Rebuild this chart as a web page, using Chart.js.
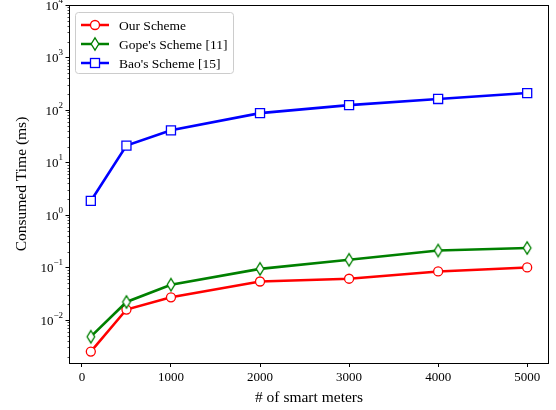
<!DOCTYPE html>
<html>
<head>
<meta charset="utf-8">
<script src="https://cdn.jsdelivr.net/npm/chart.js@4/dist/chart.umd.min.js"></script>
<style>
html, body { margin: 0; padding: 0; background: #fff; }
#wrap { width: 556px; height: 410px; }
</style>
</head>
<body>
<div id="wrap"><canvas id="c"></canvas></div>
<script>
// values (log scale, ms)
const meters = [100, 500, 1000, 2000, 3000, 4000, 5000];
const ourScheme = [0.0025, 0.0158, 0.027, 0.054, 0.061, 0.084, 0.1];
const gopeScheme = [0.0048, 0.022, 0.047, 0.094, 0.14, 0.21, 0.235];
const baoScheme = [1.85, 21, 41, 87, 124, 162, 210];
const seriesNames = ["Our Scheme", "Gope's Scheme [11]", "Bao's Scheme [15]"];
const xTicks = [0, 1000, 2000, 3000, 4000, 5000];
const yExponents = [-2, -1, 0, 1, 2, 3, 4];

const FONT = "'Liberation Serif', 'Times New Roman', serif";

// thin diamond marker like matplotlib 'd'
function thinDiamond(color) {
    const cv = document.createElement("canvas");
    cv.width = 12; cv.height = 16;
    const g = cv.getContext("2d");
    g.beginPath();
    g.moveTo(6, 1.8); g.lineTo(9.8, 8); g.lineTo(6, 14.2); g.lineTo(2.2, 8); g.closePath();
    g.fillStyle = "#fff"; g.fill();
    g.lineWidth = 1.3; g.strokeStyle = color; g.stroke();
    return cv;
}
const diamond = thinDiamond("#008000");

function toPoints(ys) {
    return meters.map((m, i) => ({ x: m, y: ys[i] }));
}

const frame = {
    id: "frame",
    afterDraw(chart) {
        const { ctx, chartArea: a, scales: { y } } = chart;
        ctx.save();
        ctx.strokeStyle = "#000";
        ctx.lineWidth = 1;
        ctx.strokeRect(Math.round(a.left) + 0.5, Math.round(a.top) + 0.5,
            Math.round(a.right - a.left) - 1, Math.round(a.bottom - a.top));

        // y ticks, major and minor
        const x0 = Math.round(a.left) + 0.5;
        for (let e = -3; e <= 4; e++) {
            for (let m = 1; m <= 9; m++) {
                const v = m * Math.pow(10, e);
                if (v < y.min || v > y.max) continue;
                const py = Math.round(y.getPixelForValue(v)) + 0.5;
                ctx.beginPath();
                ctx.moveTo(x0, py);
                ctx.lineTo(x0 - (m === 1 ? 4 : 2), py);
                ctx.lineWidth = m === 1 ? 1 : 0.7;
                ctx.stroke();
            }
        }

        // y tick labels 10^e
        ctx.fillStyle = "#000";
        ctx.textBaseline = "alphabetic";
        ctx.textAlign = "left";
        yExponents.forEach(e => {
            const py = y.getPixelForValue(Math.pow(10, e));
            const base = "10";
            const exp = e < 0 ? "\u2212" + Math.abs(e) : String(e);
            ctx.font = "13px " + FONT;
            const wb = ctx.measureText(base).width;
            ctx.font = "9px " + FONT;
            const we = ctx.measureText(exp).width;
            const right = a.left - 6;
            const left = right - wb - we;
            ctx.font = "13px " + FONT;
            ctx.fillText(base, left, py + 5);
            ctx.font = "9px " + FONT;
            ctx.fillText(exp, left + wb, py - 2);
        });

        // legend
        const bx = 75, by = 12, bw = 158, bh = 61;
        ctx.beginPath();
        ctx.roundRect(bx + 0.5, by + 0.5, bw, bh, 3);
        ctx.fillStyle = "rgba(255,255,255,0.8)";
        ctx.fill();
        ctx.strokeStyle = "#cccccc";
        ctx.lineWidth = 1;
        ctx.stroke();
        chart.data.datasets.forEach((ds, i) => {
            const ry = 25 + i * 19;
            ctx.strokeStyle = ds.borderColor;
            ctx.lineWidth = 2.5;
            ctx.beginPath();
            ctx.moveTo(81, ry); ctx.lineTo(109, ry);
            ctx.stroke();
            ctx.lineWidth = 1.3;
            if (ds.pointStyle === "circle") {
                ctx.beginPath();
                ctx.arc(95, ry, 4.5, 0, Math.PI * 2);
                ctx.fillStyle = "#fff"; ctx.fill(); ctx.stroke();
            } else if (ds.pointStyle === "rect") {
                ctx.fillStyle = "#fff";
                ctx.fillRect(90.5, ry - 4.5, 9, 9);
                ctx.strokeRect(90.5, ry - 4.5, 9, 9);
            } else {
                ctx.drawImage(ds.pointStyle, 95 - 6, ry - 8);
            }
            ctx.fillStyle = "#000";
            ctx.font = "13.5px " + FONT;
            ctx.textBaseline = "middle";
            ctx.fillText(ds.label, 119, ry + 1);
        });
        ctx.restore();
    }
};

new Chart(document.getElementById("c").getContext("2d"), {
    type: "line",
    data: {
        datasets: [
            {
                label: seriesNames[0],
                data: toPoints(ourScheme),
                borderColor: "#ff0000",
                backgroundColor: "#ffffff",
                borderWidth: 2.6,
                pointStyle: "circle",
                pointRadius: 4.5,
                pointBorderWidth: 1.3,
                order: 3
            },
            {
                label: seriesNames[1],
                data: toPoints(gopeScheme),
                borderColor: "#008000",
                backgroundColor: "#ffffff",
                borderWidth: 2.6,
                pointStyle: diamond,
                pointRadius: 5,
                pointBorderWidth: 1.3,
                order: 2
            },
            {
                label: seriesNames[2],
                data: toPoints(baoScheme),
                borderColor: "#0000ff",
                backgroundColor: "#ffffff",
                borderWidth: 2.6,
                pointStyle: "rect",
                pointRadius: 6.4,
                pointBorderWidth: 1.3,
                order: 1
            }
        ]
    },
    options: {
        responsive: true,
        maintainAspectRatio: false,
        animation: false,
        layout: { autoPadding: false, padding: { left: 0, top: 5, right: 7, bottom: 0 } },
        plugins: {
            legend: { display: false },
            tooltip: { enabled: false }
        },
        scales: {
            x: {
                type: "linear",
                min: -145,
                max: 5245,
                afterBuildTicks: scale => {
                    scale.ticks = xTicks.map(v => ({ value: v }));
                },
                afterFit: scale => { scale.height = 47; },
                grid: {
                    drawOnChartArea: false,
                    drawTicks: true,
                    tickLength: 4,
                    tickColor: "#000"
                },
                border: { display: false },
                ticks: {
                    callback: v => String(v),
                    color: "#000",
                    font: { family: FONT, size: 13 },
                    padding: 3,
                    maxRotation: 0,
                    autoSkip: false
                },
                title: {
                    display: true,
                    text: "# of smart meters",
                    color: "#000",
                    font: { family: FONT, size: 15.5 },
                    padding: { top: 0, bottom: 3 }
                }
            },
            y: {
                type: "logarithmic",
                min: Math.pow(10, -2.82),
                max: 10000,
                afterBuildTicks: scale => {
                    scale.ticks = yExponents.map(e => ({ value: Math.pow(10, e) }));
                },
                afterFit: scale => { scale.width = 69; },
                grid: { display: false },
                border: { display: false },
                ticks: { display: false },
                title: {
                    display: true,
                    text: "Consumed Time (ms)",
                    color: "#000",
                    font: { family: FONT, size: 15.5 },
                    padding: { top: 13, bottom: 0 }
                }
            }
        }
    },
    plugins: [frame]
});
</script>
</body>
</html>
